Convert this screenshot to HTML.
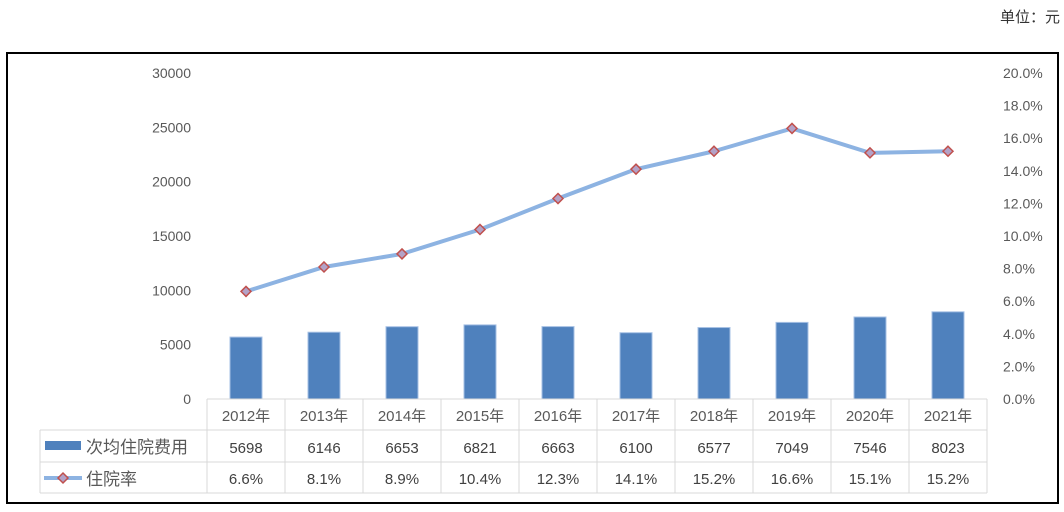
<!DOCTYPE html>
<html><head><meta charset="utf-8"><style>
body{margin:0;background:#fff;font-family:"Liberation Sans","Noto Sans CJK SC",sans-serif}
svg text{font-family:"Liberation Sans","Noto Sans CJK SC",sans-serif}
</style></head><body>
<svg id="c" width="1064" height="507" xmlns="http://www.w3.org/2000/svg">
<text x="1060" y="22" text-anchor="end" font-size="15" fill="#333">单位：元</text>
<rect x="7" y="53" width="1051" height="450" fill="none" stroke="#000" stroke-width="2"/>
<g id="g"></g>
</svg>
<script>
const categories=["2012年","2013年","2014年","2015年","2016年","2017年","2018年","2019年","2020年","2021年"];
const costValues=[5698,6146,6653,6821,6663,6100,6577,7049,7546,8023];
const rateValues=[6.6,8.1,8.9,10.4,12.3,14.1,15.2,16.6,15.1,15.2];
const leftTicks=[0,5000,10000,15000,20000,25000,30000];
const rightTicks=[0,2,4,6,8,10,12,14,16,18,20];
const NS="http://www.w3.org/2000/svg";
const g=document.getElementById('g');
const x0=207,cw=78,yB=399,yT=73;
const yL=v=>yB-(v/30000)*(yB-yT);
const yR=v=>yB-(v/20)*(yB-yT);
const xc=i=>x0+cw*i+cw/2;
function mk(t,a,txt){const e=document.createElementNS(NS,t);for(const k in a)e.setAttribute(k,a[k]);if(txt!==undefined)e.textContent=txt;g.appendChild(e);return e;}
leftTicks.forEach(v=>{const e=mk('text',{x:191,y:yL(v)+5,'text-anchor':'end','font-size':14,fill:'#595959'},v);

});
rightTicks.forEach(v=>{const e=mk('text',{x:1003,y:yR(v)+5,'font-size':14,fill:'#595959'},v.toFixed(1)+'%');

});
costValues.forEach((v,i)=>{const e=mk('rect',{x:xc(i)-16,y:yL(v),width:32,height:yB-yL(v),fill:'#4f81bd',stroke:'#a6c0e4','stroke-width':1});

});
const pl=mk('polyline',{points:rateValues.map((v,i)=>xc(i)+','+yR(v)).join(' '),fill:'none',stroke:'#8db3e2','stroke-width':4,'stroke-linejoin':'round'});


rateValues.forEach((v,i)=>{const x=xc(i),y=yR(v);const e=mk('polygon',{points:`${x},${y-5} ${x+5},${y} ${x},${y+5} ${x-5},${y}`,fill:'#b3a2c7',stroke:'#c0504d','stroke-width':1.5});

});
// table
const lc='#d9d9d9';
const rows=[399,430,462,493];
mk('line',{x1:x0,y1:399,x2:987,y2:399,stroke:lc});
mk('line',{x1:40,y1:430,x2:987,y2:430,stroke:lc});
mk('line',{x1:40,y1:462,x2:987,y2:462,stroke:lc});
mk('line',{x1:40,y1:493,x2:987,y2:493,stroke:lc});
mk('line',{x1:40,y1:430,x2:40,y2:493,stroke:lc});
for(let i=0;i<=10;i++)mk('line',{x1:x0+cw*i,y1:399,x2:x0+cw*i,y2:493,stroke:lc});
categories.forEach((c,i)=>{const e=mk('text',{x:xc(i),y:421,'text-anchor':'middle','font-size':15,fill:'#595959'},c);

});
costValues.forEach((v,i)=>{const e=mk('text',{x:xc(i),y:453,'text-anchor':'middle','font-size':15,fill:'#404040'},v);

});
rateValues.forEach((v,i)=>{const e=mk('text',{x:xc(i),y:484,'text-anchor':'middle','font-size':15,fill:'#404040'},v.toFixed(1)+'%');

});
const k1=mk('rect',{x:45,y:441,width:36,height:9,fill:'#4f81bd'});


const t1=mk('text',{x:86,y:453,'font-size':17,fill:'#595959'},'次均住院费用');


mk('line',{x1:44,y1:478,x2:82,y2:478,stroke:'#8db3e2','stroke-width':4});
const k2=mk('polygon',{points:'63,473 68,478 63,483 58,478',fill:'#b3a2c7',stroke:'#c0504d','stroke-width':1.5});


const t2=mk('text',{x:86,y:485,'font-size':17,fill:'#595959'},'住院率');


</script>
</body></html>
